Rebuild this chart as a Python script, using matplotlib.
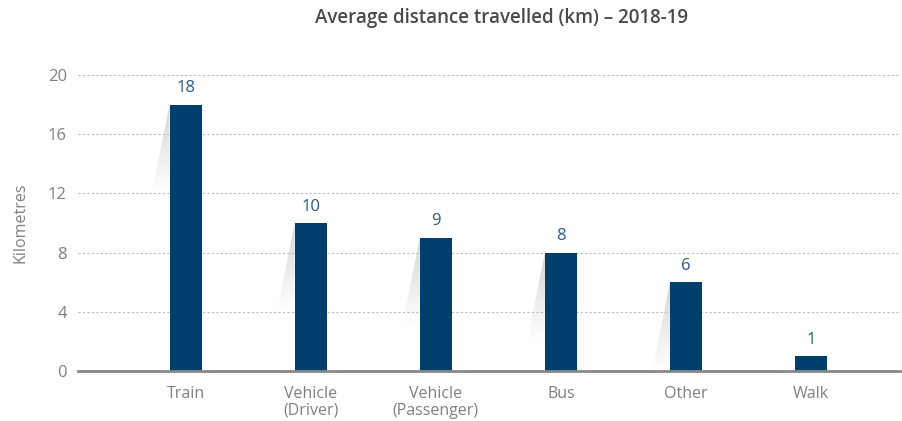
import matplotlib
matplotlib.use('Agg')
import matplotlib.pyplot as plt
import numpy as np
from matplotlib.patches import Polygon

categories = ['Train', 'Vehicle\n(Driver)', 'Vehicle\n(Passenger)', 'Bus', 'Other', 'Walk']
distances = [18, 10, 9, 8, 6, 1]
y_ticks = [0, 4, 8, 12, 16, 20]

bar_color = '#003f6b'
label_color = '#2b5a85'
text_grey = '#808080'

plt.rcParams['font.family'] = ['Open Sans', 'DejaVu Sans']

fig = plt.figure(figsize=(9.02, 4.21), dpi=100)
ax = fig.add_axes([78 / 902, 50 / 421, 822 / 902, 296 / 421])

x = np.arange(len(categories))
bar_w = 0.256
bars = ax.bar(x, distances, width=bar_w, color=bar_color, zorder=3)

# faint shadow wedge to the left of each bar, grey at the top fading to nothing
shade = np.zeros((256, 1, 4))
shade[:, 0, :3] = 0.78
shade[:, 0, 3] = np.linspace(0.75, 0.0, 256)
for xi, v in zip(x, distances):
    if v < 3:
        continue
    left = xi - bar_w / 2
    top = v
    bot = max(v - 5.9, 0)
    poly = Polygon([(left, top), (left - 0.14, bot), (left, bot)],
                   closed=True, facecolor='none', edgecolor='none')
    ax.add_patch(poly)
    im = ax.imshow(shade, aspect='auto', origin='upper',
                   extent=(left - 0.14, left, bot, top), zorder=2,
                   interpolation='bilinear')
    im.set_clip_path(poly)

for b, v in zip(bars, distances):
    ax.annotate(str(v), (b.get_x() + b.get_width() / 2, v),
                xytext=(0, 6), textcoords='offset points',
                ha='center', va='bottom', fontsize=12, color=label_color)

ax.set_xlim(-0.86, 5.71)
ax.set_ylim(0, 20)
ax.set_xticks(x)
ax.set_xticklabels(categories, fontsize=11.5, color=text_grey, linespacing=1.05)
ax.set_yticks(y_ticks)
ax.set_yticklabels([str(t) for t in y_ticks], fontsize=12, color=text_grey)
ax.tick_params(axis='both', length=0)
ax.tick_params(axis='x', pad=11)
ax.tick_params(axis='y', pad=8)

ax.grid(axis='y', linestyle=(0, (2, 2)), color='#bbbbbb', linewidth=0.8, zorder=0)
for s in ['top', 'right', 'left']:
    ax.spines[s].set_visible(False)
ax.spines['bottom'].set_color('#888888')
ax.spines['bottom'].set_linewidth(2)
ax.spines['bottom'].set_zorder(4)

ax.set_ylabel('Kilometres', fontsize=11.5, color=text_grey, labelpad=14)
fig.text(502 / 902, 1 - 18 / 421, 'Average distance travelled (km) \u2013 2018-19',
         ha='center', va='center', fontsize=13.5, fontweight='semibold', color='#4a4a4a')

fig.savefig('out.png', dpi=100)
